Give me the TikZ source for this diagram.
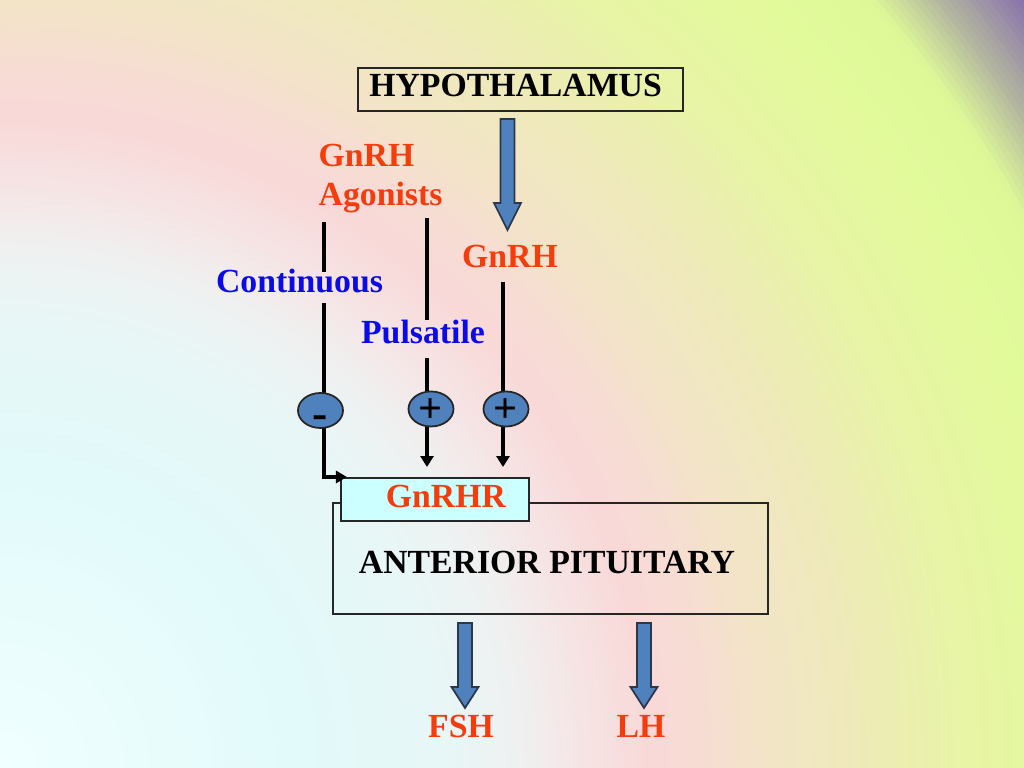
\documentclass[tikz,border=0pt]{standalone}
\usepackage{fontspec}
\setmainfont{Liberation Serif}
\usetikzlibrary{arrows.meta,calc,shapes.geometric}
\definecolor{txtred}{RGB}{245,60,12}
\definecolor{txtblue}{RGB}{10,10,235}
\definecolor{arrblue}{RGB}{79,129,189}
\definecolor{arredge}{RGB}{45,55,75}
\definecolor{boxcyan}{RGB}{204,255,255}
\definecolor{bga}{HTML}{F0FFFF}
\definecolor{bgb}{HTML}{E2FAFA}
\definecolor{bgc}{HTML}{E8F6F6}
\definecolor{bgd}{HTML}{F0F0F0}
\definecolor{bge}{HTML}{F6E4E4}
\definecolor{bgf}{HTML}{F9D8D8}
\definecolor{bgg}{HTML}{F7DCD4}
\definecolor{bgh}{HTML}{F3E4C8}
\definecolor{bgi}{HTML}{EEEAB8}
\definecolor{bgj}{HTML}{E8F4A6}
\definecolor{bgk}{HTML}{E2FA9A}
\definecolor{bgl}{HTML}{DEF898}
\definecolor{bgm}{HTML}{B2B4A0}
\definecolor{bgn}{HTML}{7A5CB0}
% radial background ring set: r0 r1 colA(at r0) colB(at r1) n ; drawn outside-in
\newcommand{\bgring}[5]{%
  \foreach \j in {1,...,#5}{%
    \pgfmathsetmacro{\rr}{#2-(#2-#1)*(\j-1)/#5}%
    \pgfmathtruncatemacro{\pp}{100*(1-(\j-0.5)/#5)}%
    \colorlet{bandc}{#4!\pp!#3}%
    \fill[bandc] (bgcentre) circle[radius=\rr];
  }}
% block arrow: start, tip, head length
\newcommand{\blockarrow}[3]{%
  \draw[arrowbody] ($(#1)+(-7,0)$) -- ($(#2)+(-7,-#3)$) -- ($(#2)+(-13.5,-#3)$)
    -- (#2) -- ($(#2)+(13.5,-#3)$) -- ($(#2)+(7,-#3)$) -- ($(#1)+(7,0)$) -- cycle;}
\begin{document}
\begin{tikzpicture}[x=0.01cm,y=-0.01cm,
  every node/.style={inner sep=0pt},
  txt/.style={font=\bfseries\fontsize{9.6}{11.3}\selectfont},
  redtxt/.style={txt,text=txtred},
  bluetxt/.style={txt,text=txtblue},
  framebox/.style={draw=black!85,line width=0.55pt},
  sign/.style={ellipse,draw=black!85,line width=0.5pt,fill=arrblue,
    minimum width=0.45cm,minimum height=0.35cm},
  feed/.style={line width=1.1pt,black},
  plusarr/.style={feed,-{Triangle[width=0.13cm,length=0.11cm]}},
  elbow/.style={feed,-{Triangle[width=0.12cm,length=0.11cm]}},
  arrowbody/.style={fill=arrblue,draw=arredge,line width=0.5pt,line join=miter}]
\useasboundingbox (0,0) rectangle (1024,768);
% background
\begin{scope}
  \clip (0,0) rectangle (1024,768);
  \coordinate (bgcentre) at (0,768);
  \bgring{1215}{1300}{bgm}{bgn}{16}
  \bgring{1160}{1215}{bgl}{bgm}{10}
  \bgring{1080}{1160}{bgk}{bgl}{8}
  \bgring{960}{1080}{bgj}{bgk}{16}
  \bgring{860}{960}{bgi}{bgj}{16}
  \bgring{760}{860}{bgh}{bgi}{16}
  \bgring{700}{760}{bgg}{bgh}{10}
  \bgring{650}{700}{bgf}{bgg}{8}
  \bgring{585}{650}{bge}{bgf}{10}
  \bgring{525}{585}{bgd}{bge}{10}
  \bgring{450}{525}{bgc}{bgd}{12}
  \bgring{300}{450}{bgb}{bgc}{16}
  \bgring{0}{300}{bga}{bgb}{24}
\end{scope}
% boxes
\node[framebox,txt,minimum width=3.25cm,minimum height=0.43cm,text height=4.25pt,text depth=0pt]
  (hyp) at (520.5,89.5) {HYPOTHALAMUS\hspace*{2.8pt}};
\node[framebox,txt,minimum width=4.35cm,minimum height=1.11cm,text height=8.8pt,text depth=0pt]
  (ap) at (550.5,558.5) {ANTERIOR PITUITARY\hspace*{2pt}};
\node[framebox,redtxt,fill=boxcyan,minimum width=1.88cm,minimum height=0.43cm,text height=4.8pt,text depth=0pt]
  (gnrhr) at (435,499.5) {\hspace*{6.2pt}GnRHR};
% labels
\node[redtxt,align=left,anchor=north west] (ago) at (318,143) {GnRH\\Agonists};
\node[redtxt,anchor=base] (gnrh) at (510,268) {GnRH};
\node[bluetxt,anchor=base] (cont) at (299.5,293) {Continuous};
\node[bluetxt,anchor=base] (puls) at (423,344) {Pulsatile};
\node[redtxt,anchor=base] (fsh) at (461,738) {FSH};
\node[redtxt,anchor=base] (lh) at (641,738) {LH};
% feed lines
\coordinate (l1a) at (324,222); \coordinate (l1b) at (324,272); \coordinate (l1c) at (324,303);
\coordinate (l2a) at (427,218); \coordinate (l2b) at (427,320); \coordinate (l2c) at (427,358);
\coordinate (l3a) at (503,282);
\coordinate (m1c) at (320.5,410.5);
\coordinate (p1c) at (431,409);
\coordinate (p2c) at (506,409);
\draw[feed] (l1a) -- (l1b);
\draw[feed] (l1c) -- (l1c |- m1c);
\draw[feed] (l2a) -- (l2b);
\draw[feed] (l2c) -- (l2c |- p1c);
\draw[feed] (l3a) -- (l3a |- p2c);
\draw[elbow] (l1c |- m1c) |- ([xshift=0.07cm]gnrhr.north west);
\draw[plusarr] (l2c |- p1c) -- ($(l2c |- gnrhr.north)+(0,-10)$);
\draw[plusarr] (l3a |- p2c) -- ($(l3a |- gnrhr.north)+(0,-10)$);
% sign circles
\node[sign,font=\bfseries\fontsize{13}{14}\selectfont] (m1) at (m1c) {\smash{\raisebox{-5.2pt}{-}}};
\node[sign,font=\bfseries\fontsize{12}{13}\selectfont] (p1) at (p1c) {\smash{\raisebox{-3.8pt}{+}}};
\node[sign,font=\bfseries\fontsize{12}{13}\selectfont] (p2) at (p2c) {\smash{\raisebox{-3.8pt}{+}}};
% block arrows
\coordinate (hs) at (507.5,119); \coordinate (ht) at (507.5,230);
\coordinate (fs) at (465,623);   \coordinate (ft) at (465,708);
\coordinate (ls) at (644,623);   \coordinate (lt) at (644,708);
\blockarrow{hs}{ht}{27}
\blockarrow{fs}{ft}{21}
\blockarrow{ls}{lt}{21}
\end{tikzpicture}
\end{document}
